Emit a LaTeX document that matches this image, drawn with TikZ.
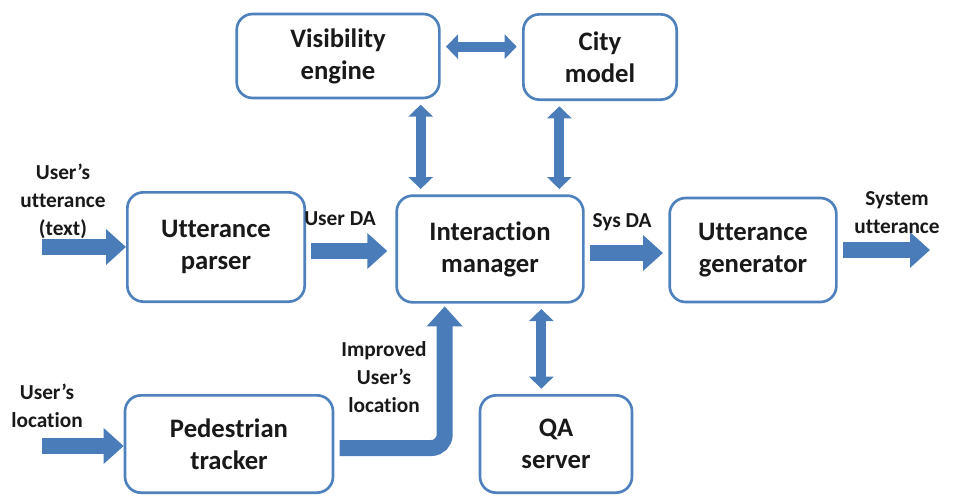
\documentclass[tikz,border=0pt]{standalone}
\usepackage{fontspec}
\setmainfont{Carlito}[Ligatures=NoCommon]
\usetikzlibrary{arrows.meta,calc}
\definecolor{boxblue}{RGB}{79,129,189}
\definecolor{arrowblue}{RGB}{74,124,186}

\begin{document}
\begin{tikzpicture}[x=0.75pt,y=-0.75pt,
	box/.style={draw=boxblue,line width=2pt,rounded corners=12pt,fill=white,align=center,
		font=\bfseries\fontsize{20}{24}\selectfont,text=black!90},
	flow/.style={draw=arrowblue,line width=12pt,-{Triangle[width=26pt,length=15pt]}},
	link/.style={draw=arrowblue,line width=7.5pt,{Triangle[width=18pt,length=9pt]}-{Triangle[width=18pt,length=9pt]}},
	lbl/.style={align=center,inner sep=0pt,font=\bfseries\fontsize{16}{21}\selectfont,text=black!90}]
		\useasboundingbox (0,0) rectangle (953,496);

		\path (338,56) node[box,minimum width=152pt,minimum height=63pt] (vis) {Visibility\\engine}
		(600,57) node[box,minimum width=115pt,minimum height=64pt] (city) {City\\model}
		(216,247) node[box,minimum width=133pt,minimum height=82pt] (parser) {Utterance\\parser}
		(490,249) node[box,minimum width=140pt,minimum height=80pt] (im) {Interaction\\manager}
		(753,250) node[box,minimum width=125pt,minimum height=78pt] (gen) {Utterance\\generator}
		(229,444) node[box,minimum width=156pt,minimum height=73pt] (ped) {Pedestrian\\tracker}
		(556,444) node[box,minimum width=114pt,minimum height=73pt] (qa) {QA\\server};

		\coordinate (in1) at (42,247);
		\coordinate (in2) at (42,446);
		\coordinate (out) at (930,250);

		\draw[flow] (in1) -- (in1 -| parser.west);
		\draw[flow] (in2) -- (in2 -| ped.west);
		\draw[flow,shorten <=4pt,shorten >=6pt] ([yshift=-3pt]parser.east) -- ([yshift=-3pt]parser.east -| im.west);
		\draw[flow,shorten <=4pt,shorten >=4pt] ([yshift=-3pt]im.east) -- ([yshift=-3pt]im.east -| gen.west);
		\draw[flow,shorten <=4pt] (gen.east) -- (out);
		\draw[flow,rounded corners=10pt,shorten >=2pt] ([xshift=4pt,yshift=-3pt]ped.east) -| ([xshift=37pt]im.south west);

		\draw[link,shorten <=4pt,shorten >=4pt] ([yshift=7pt]vis.east) -- ([yshift=7pt]vis.east -| city.west);
		\draw[link,shorten <=4pt,shorten >=4pt] ([xshift=-15pt]vis.south east) -- ([xshift=-15pt]vis.south east |- im.north);
		\draw[link,shorten <=4pt,shorten >=4pt] ([xshift=28pt]city.south west) -- ([xshift=28pt]city.south west |- im.north);
		\draw[link,shorten <=4pt,shorten >=4pt] ([xshift=-11pt]qa.north) -- ([xshift=-11pt]qa.north |- im.south);

		\path (63,201) node[lbl] (l1) {User’s\\utterance\\(text)}
		(340,219) node[lbl] (l2) {User DA}
		(622,222) node[lbl] (l3) {Sys DA}
		(897,213) node[lbl] (l4) {System\\utterance}
		(384,377) node[lbl] (l5) {Improved\\User’s\\location}
		(47,406) node[lbl] (l6) {User’s\\location};

	\end{tikzpicture}
\end{document}
